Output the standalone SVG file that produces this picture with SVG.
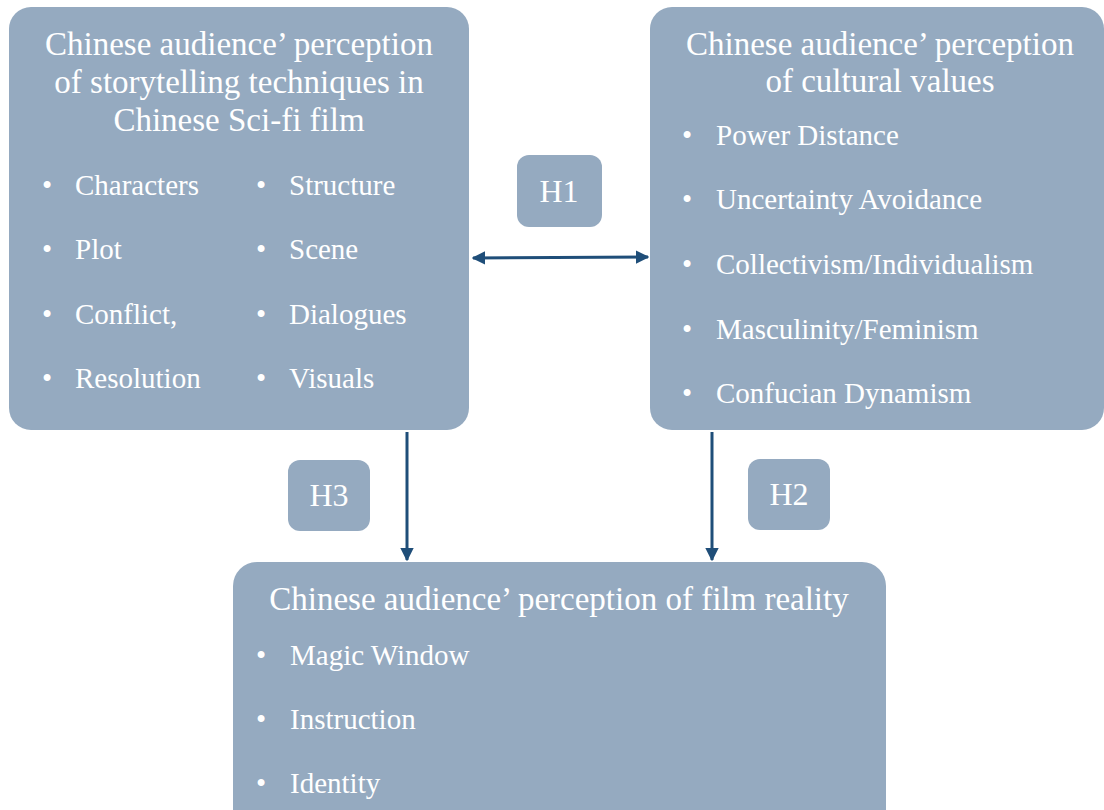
<svg xmlns="http://www.w3.org/2000/svg" width="1104" height="810" viewBox="0 0 1104 810">
<defs>
<marker id="ah" viewBox="0 0 10 10" refX="9" refY="5" markerWidth="4.5" markerHeight="4.5" orient="auto-start-reverse" markerUnits="strokeWidth">
<path d="M0,0 L10,5 L0,10 z" fill="#1f4e79"/>
</marker>
<style>
.box{fill:#95aac0;}
.t{font-family:'Liberation Serif','Times New Roman',Tinos,'DejaVu Serif',serif;fill:#ffffff;}
.title{font-size:33px;text-anchor:middle;}
.item{font-size:29px;}
.h{font-size:32px;text-anchor:middle;}
.conn{stroke:#1f4e79;stroke-width:3;fill:none;}
</style>
</defs>
<rect width="1104" height="810" fill="#ffffff"/>

<g id="storytelling">
<rect class="box" x="9" y="7" width="460" height="423" rx="22"/>
<text class="t title" x="239" y="55">Chinese audience’ perception</text>
<text class="t title" x="239" y="93">of storytelling techniques in</text>
<text class="t title" x="239" y="131">Chinese Sci-fi film</text>
<g class="t item">
<text x="42" y="195">•</text><text x="75" y="195">Characters</text>
<text x="42" y="259">•</text><text x="75" y="259">Plot</text>
<text x="42" y="324">•</text><text x="75" y="324">Conflict,</text>
<text x="42" y="388">•</text><text x="75" y="388">Resolution</text>
<text x="256" y="195">•</text><text x="289" y="195">Structure</text>
<text x="256" y="259">•</text><text x="289" y="259">Scene</text>
<text x="256" y="324">•</text><text x="289" y="324">Dialogues</text>
<text x="256" y="388">•</text><text x="289" y="388">Visuals</text>
</g>
</g>

<g id="cultural">
<rect class="box" x="650" y="7" width="454" height="423" rx="22"/>
<text class="t title" x="880" y="55">Chinese audience’ perception</text>
<text class="t title" x="880" y="92">of cultural values</text>
<g class="t item">
<text x="682" y="145">•</text><text x="716" y="145">Power Distance</text>
<text x="682" y="209">•</text><text x="716" y="209">Uncertainty Avoidance</text>
<text x="682" y="274">•</text><text x="716" y="274">Collectivism/Individualism</text>
<text x="682" y="339">•</text><text x="716" y="339">Masculinity/Feminism</text>
<text x="682" y="403">•</text><text x="716" y="403">Confucian Dynamism</text>
</g>
</g>

<g id="reality">
<rect class="box" x="233" y="562" width="653" height="280" rx="24"/>
<text class="t title" x="559" y="610">Chinese audience’ perception of film reality</text>
<g class="t item">
<text x="256" y="665">•</text><text x="290" y="665">Magic Window</text>
<text x="256" y="729">•</text><text x="290" y="729">Instruction</text>
<text x="256" y="793">•</text><text x="290" y="793">Identity</text>
</g>
</g>

<g id="h1">
<rect class="box" x="517" y="155" width="85" height="72" rx="12"/>
<text class="t h" x="559" y="202">H1</text>
</g>
<g id="h3">
<rect class="box" x="288" y="460" width="82" height="71" rx="12"/>
<text class="t h" x="329" y="506">H3</text>
</g>
<g id="h2">
<rect class="box" x="748" y="459" width="82" height="71" rx="12"/>
<text class="t h" x="789" y="505">H2</text>
</g>

<g id="connectors">
<line class="conn" x1="473" y1="258" x2="648" y2="257" marker-start="url(#ah)" marker-end="url(#ah)"/>
<line class="conn" x1="407" y1="432" x2="407" y2="560" marker-end="url(#ah)"/>
<line class="conn" x1="712" y1="432" x2="712" y2="560" marker-end="url(#ah)"/>
</g>
</svg>
